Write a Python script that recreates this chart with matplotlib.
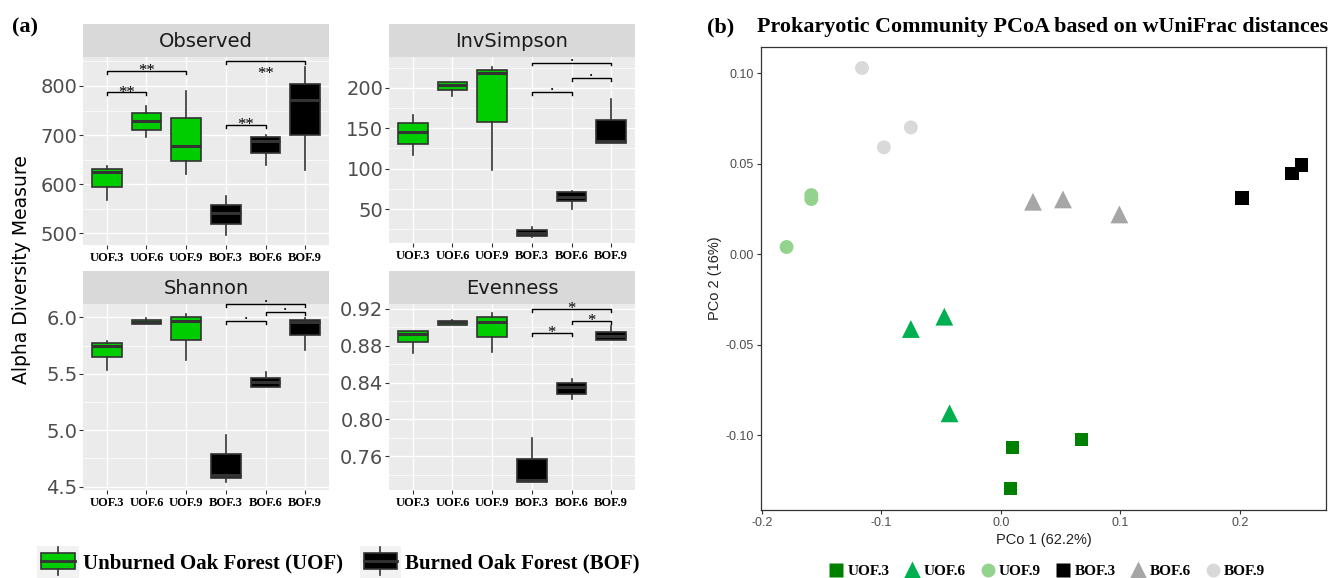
import matplotlib
matplotlib.use("Agg")
import matplotlib.pyplot as plt
from matplotlib.patches import Rectangle, Patch
from matplotlib.lines import Line2D
from matplotlib.legend_handler import HandlerBase
from matplotlib.ticker import MultipleLocator, FixedLocator

plt.rcParams["axes.unicode_minus"] = False

groups = ["UOF.3", "UOF.6", "UOF.9", "BOF.3", "BOF.6", "BOF.9"]

# box stats: whisker low, q1, median, q3, whisker high
observed_lo = [568, 697, 621, 497, 638, 628]
observed_q1 = [595, 711, 648, 518, 663, 700]
observed_med = [624, 729, 678, 541, 688, 772]
observed_q3 = [631, 744, 734, 558, 697, 805]
observed_hi = [637, 759, 790, 575, 701, 838]

invsimpson_lo = [117, 190, 98, 16, 50, 132]
invsimpson_q1 = [131, 197, 158, 17, 60, 132]
invsimpson_med = [145, 203, 218, 20, 65, 134]
invsimpson_q3 = [156, 207, 222, 24, 71, 160]
invsimpson_hi = [166, 207, 226, 28, 72, 186]

shannon_lo = [5.53, 5.938, 5.618, 4.544, 5.385, 5.713]
shannon_q1 = [5.645, 5.938, 5.796, 4.574, 5.385, 5.84]
shannon_med = [5.749, 5.959, 5.967, 4.604, 5.423, 5.956]
shannon_q3 = [5.775, 5.973, 6.003, 4.79, 5.462, 5.979]
shannon_hi = [5.787, 5.994, 6.03, 4.959, 5.512, 5.994]

evenness_lo = [0.872, 0.903, 0.8736, 0.7324, 0.822, 0.8866]
evenness_q1 = [0.8837, 0.903, 0.8895, 0.7324, 0.8278, 0.8866]
evenness_med = [0.8932, 0.906, 0.906, 0.734, 0.835, 0.891]
evenness_q3 = [0.8964, 0.907, 0.911, 0.757, 0.8398, 0.895]
evenness_hi = [0.8964, 0.908, 0.9156, 0.7796, 0.8438, 0.9011]

# significance brackets: (group a, group b, height, label)
observed_sig = [(0, 1, 787, "**"), (0, 2, 830, "**"), (3, 4, 720, "**"), (3, 5, 850, "**")]
invsimpson_sig = [(3, 4, 195, "."), (4, 5, 212, "."), (3, 5, 231, ".")]
shannon_sig = [(3, 4, 5.967, "."), (4, 5, 6.044, "."), (3, 5, 6.118, ".")]
evenness_sig = [(3, 4, 0.8939, "*"), (4, 5, 0.9066, "*"), (3, 5, 0.920, "*")]

# PCoA coordinates (panel b)
pcoa_group = ["UOF.3"] * 3 + ["UOF.6"] * 3 + ["UOF.9"] * 3 + ["BOF.3"] * 3 + ["BOF.6"] * 3 + ["BOF.9"] * 3
pcoa_pc1 = [0.0098, 0.0674, 0.0079,
            -0.0754, -0.0474, -0.0430,
            -0.1587, -0.1587, -0.1794,
            0.2019, 0.2437, 0.2515,
            0.0268, 0.0519, 0.0991,
            -0.1163, -0.0754, -0.0980]
pcoa_pc2 = [-0.1068, -0.1024, -0.1294,
            -0.0414, -0.0346, -0.0880,
            0.0326, 0.0304, 0.0039,
            0.0311, 0.0446, 0.0492,
            0.0289, 0.0302, 0.0219,
            0.1028, 0.0700, 0.0590]

GREEN = "#00CD00"
EDGE = "#333333"
SERIF = "Liberation Serif"

fig = plt.figure(figsize=(13.28, 5.78), dpi=100)
W, H = 1328.0, 578.0


def facet(x0, top, bottom, title, lo, q1, med, q3, hi, sig, ylim, major, minor, fmt, below=()):
    # top = upper edge of the strip, bottom = lower edge of the panel (pixels from top)
    left = x0 / W
    width = 246 / W
    strip = fig.add_axes([left, 1 - (top + 33) / H, width, 33 / H])
    strip.set_facecolor("#D9D9D9")
    strip.set_xticks([])
    strip.set_yticks([])
    for s in strip.spines.values():
        s.set_visible(False)
    strip.text(0.5, 0.48, title, ha="center", va="center", fontsize=14, color="#1A1A1A",
               transform=strip.transAxes)

    ax = fig.add_axes([left, 1 - bottom / H, width, (bottom - top - 33) / H])
    ax.set_facecolor("#EBEBEB")
    for s in ax.spines.values():
        s.set_visible(False)
    ax.set_axisbelow(True)

    stats = [dict(whislo=lo[i], q1=q1[i], med=med[i], q3=q3[i], whishi=hi[i], fliers=[])
             for i in range(len(groups))]
    bp = ax.bxp(stats, positions=range(1, 7), widths=0.75, patch_artist=True,
                showcaps=False, showfliers=False,
                boxprops=dict(edgecolor=EDGE, linewidth=1.2),
                whiskerprops=dict(color=EDGE, linewidth=1.2),
                medianprops=dict(color=EDGE, linewidth=2.2, solid_capstyle="butt"))
    for i, b in enumerate(bp["boxes"]):
        b.set_facecolor(GREEN if groups[i].startswith("U") else "black")

    ax.set_xlim(0.4, 6.6)
    ax.set_ylim(*ylim)
    ax.yaxis.set_major_locator(FixedLocator(major))
    ax.set_yticklabels([fmt.format(v) for v in major])
    ax.yaxis.set_minor_locator(MultipleLocator(minor))
    ax.set_xticks(range(1, 7))
    ax.set_xticklabels(groups, fontfamily=SERIF, fontweight="bold", fontsize=9, color="black")
    ax.grid(which="major", color="white", linewidth=1.0)
    ax.grid(which="minor", axis="y", color="white", linewidth=0.5)
    ax.tick_params(which="major", length=3, width=0.8, color=EDGE, pad=1)
    ax.tick_params(axis="x", pad=2)
    ax.tick_params(axis="y", labelsize=14, labelcolor="#4D4D4D")
    ax.tick_params(which="minor", length=0)

    span = ylim[1] - ylim[0]
    for k, (a, b, y, lab) in enumerate(sig):
        tip = 0.015 * span
        ax.plot([a + 1, a + 1, b + 1, b + 1], [y - tip, y, y, y - tip], color="black",
                linewidth=1.0, clip_on=False, zorder=5)
        if lab == ".":
            dy = 1.5
        elif k in below:
            dy = -12
        else:
            dy = -3
        ax.annotate(lab, xy=((a + b) / 2 + 1, y), xytext=(0, dy), textcoords="offset points",
                    ha="center", va="baseline", fontfamily=SERIF, fontsize=12,
                    annotation_clip=False, zorder=6)
    return ax


facet(83, 24, 245, "Observed", observed_lo, observed_q1, observed_med, observed_q3, observed_hi,
      observed_sig, (476, 859), [500, 600, 700, 800], 50, "{:.0f}", below=(3,))
facet(389, 24, 243, "InvSimpson", invsimpson_lo, invsimpson_q1, invsimpson_med, invsimpson_q3,
      invsimpson_hi, invsimpson_sig, (8, 238), [50, 100, 150, 200], 25, "{:.0f}")
facet(83, 271, 490, "Shannon", shannon_lo, shannon_q1, shannon_med, shannon_q3, shannon_hi,
      shannon_sig, (4.47, 6.118), [4.5, 5.0, 5.5, 6.0], 0.25, "{:.1f}")
facet(389, 271, 490, "Evenness", evenness_lo, evenness_q1, evenness_med, evenness_q3, evenness_hi,
      evenness_sig, (0.7233, 0.9254), [0.76, 0.80, 0.84, 0.88, 0.92], 0.02, "{:.2f}")

fig.text(22 / W, 1 - 270 / H, "Alpha Diversity Measure", rotation=90, ha="center", va="center",
         fontsize=13.5, color="black")
fig.text(12 / W, 1 - 27 / H, "(a)", fontfamily=SERIF, fontweight="bold", fontsize=16,
         ha="left", va="center")


class BoxKey(HandlerBase):
    def create_artists(self, legend, orig_handle, xdescent, ydescent, width, height, fontsize, trans):
        x0, y0 = -xdescent, -ydescent
        bg = Rectangle((x0, y0), width, height, facecolor="#F2F2F2", edgecolor="none", transform=trans)
        bw = width * 0.8
        bx = x0 + (width - bw) / 2
        box = Rectangle((bx, y0 + height * 0.27), bw, height * 0.5, facecolor=orig_handle.get_facecolor(),
                        edgecolor=EDGE, linewidth=1.2, transform=trans)
        cx = x0 + width / 2
        med = Line2D([bx, bx + bw], [y0 + height * 0.52] * 2, color=EDGE, linewidth=2, transform=trans)
        w1 = Line2D([cx, cx], [y0 + height * 0.08, y0 + height * 0.27], color=EDGE, linewidth=1.2, transform=trans)
        w2 = Line2D([cx, cx], [y0 + height * 0.77, y0 + height * 0.95], color=EDGE, linewidth=1.2, transform=trans)
        return [bg, box, med, w1, w2]


fig.legend(handles=[Patch(facecolor=GREEN, label="Unburned Oak Forest (UOF)"),
                    Patch(facecolor="black", label="Burned Oak Forest (BOF)")],
           handler_map={Patch: BoxKey()}, ncol=2, loc="lower left", bbox_to_anchor=(37 / W, 0.0),
           frameon=False, borderpad=0, borderaxespad=0, handlelength=2.0, handleheight=2.0,
           handletextpad=0.2, columnspacing=0.8,
           prop=dict(family=SERIF, weight="bold", size=15))

# ---- panel (b): PCoA
pcoa_colors = {"UOF.3": "#008000", "UOF.6": "#00B050", "UOF.9": "#93D38D",
               "BOF.3": "#000000", "BOF.6": "#A6A6A6", "BOF.9": "#D9D9D9"}
pcoa_markers = {"UOF.3": "s", "UOF.6": "^", "UOF.9": "o", "BOF.3": "s", "BOF.6": "^", "BOF.9": "o"}
pcoa_sizes = {"s": 95, "^": 165, "o": 100}

bx = fig.add_axes([761 / W, 68 / H, 565 / W, 463 / H])
for g in groups:
    xs = [x for x, gg in zip(pcoa_pc1, pcoa_group) if gg == g]
    ys = [y for y, gg in zip(pcoa_pc2, pcoa_group) if gg == g]
    m = pcoa_markers[g]
    bx.scatter(xs, ys, marker=m, s=pcoa_sizes[m], color=pcoa_colors[g], edgecolors="none")
bx.set_xlim(-0.2008, 0.272)
bx.set_ylim(-0.1414, 0.1144)
bx.set_xticks([-0.2, -0.1, 0.0, 0.1, 0.2])
bx.set_xticklabels(["-0.2", "-0.1", "0.0", "0.1", "0.2"])
bx.set_yticks([-0.10, -0.05, 0.0, 0.05, 0.10])
bx.set_yticklabels(["-0.10", "-0.05", "0.00", "0.05", "0.10"])
for s in bx.spines.values():
    s.set_color(EDGE)
    s.set_linewidth(0.9)
bx.tick_params(length=3, width=0.8, color=EDGE, labelcolor="#4D4D4D", labelsize=9, pad=2)
for lab in bx.get_xticklabels() + bx.get_yticklabels():
    lab.set_fontfamily("Liberation Sans")
bx.set_xlabel("PCo 1 (62.2%)", fontfamily="Liberation Sans", fontsize=10.5, color="#222222", labelpad=3)
bx.set_ylabel("PCo 2 (16%)", fontfamily="Liberation Sans", fontsize=10.5, color="#222222", labelpad=3)

fig.text(707 / W, 1 - 27 / H, "(b)", fontfamily=SERIF, fontweight="bold", fontsize=16,
         ha="left", va="center")
fig.text(757 / W, 1 - 27 / H, "Prokaryotic Community PCoA based on wUniFrac distances",
         fontfamily=SERIF, fontweight="bold", fontsize=15.8, ha="left", va="center")

leg_size = {"s": 10, "^": 13, "o": 10}
handles = [Line2D([], [], linestyle="none", marker=pcoa_markers[g], color=pcoa_colors[g],
                  markeredgecolor="none", markersize=leg_size[pcoa_markers[g]], label=g) for g in groups]
fig.legend(handles=handles, ncol=6, loc="center", bbox_to_anchor=(1047 / W, 7 / H), frameon=False,
           borderpad=0, borderaxespad=0, handlelength=1.0, handletextpad=0.25, columnspacing=0.95,
           prop=dict(family=SERIF, weight="bold", size=11))

fig.savefig("out.png", dpi=100)
